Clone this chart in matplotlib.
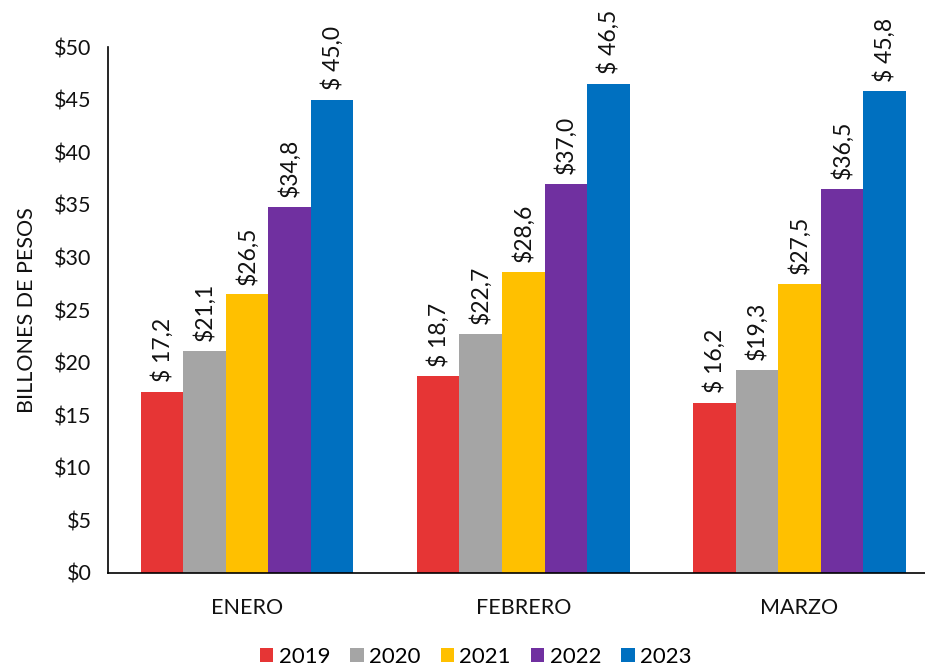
import numpy as np
import matplotlib.pyplot as plt

plt.rcParams['font.family'] = ['Lato', 'DejaVu Sans']

meses = ["ENERO", "FEBRERO", "MARZO"]
anios = ["2019", "2020", "2021", "2022", "2023"]
valores = {
    "2019": [17.2, 18.7, 16.2],
    "2020": [21.1, 22.7, 19.3],
    "2021": [26.5, 28.6, 27.5],
    "2022": [34.8, 37.0, 36.5],
    "2023": [45.0, 46.5, 45.8],
}
etiquetas = {
    "2019": ["$ 17,2", "$ 18,7", "$ 16,2"],
    "2020": ["$21,1", "$22,7", "$19,3"],
    "2021": ["$26,5", "$28,6", "$27,5"],
    "2022": ["$34,8", "$37,0", "$36,5"],
    "2023": ["$ 45,0", "$ 46,5", "$ 45,8"],
}
colores = ["#E63535", "#A5A5A5", "#FFC000", "#7030A0", "#0070C0"]

fig = plt.figure(figsize=(9.25, 6.66), dpi=100)
ax = fig.add_axes([0.117, 0.14, 0.883, 0.789])

x = np.arange(len(meses))
w = 0.154
for i, anio in enumerate(anios):
    pos = x + (i - 2) * w
    bars = ax.bar(pos, valores[anio], width=w, color=colores[i], label=anio)
    for b, txt in zip(bars, etiquetas[anio]):
        ax.annotate(txt, (b.get_x() + b.get_width() / 2, b.get_height()),
                    xytext=(0, 7), textcoords="offset points",
                    rotation=90, ha="center", va="bottom", fontsize=16.5,
                    color="#111111")

ax.set_xlim(-0.503, 2.455)
ax.set_ylim(0, 50)
ax.set_yticks(range(0, 51, 5))
ax.set_yticklabels([f"${v}" for v in range(0, 51, 5)])
ax.set_xticks(x)
ax.set_xticklabels(meses)
ax.tick_params(length=0, labelsize=15.5, labelcolor="#111111")
ax.tick_params(axis="y", pad=12)
ax.tick_params(axis="x", pad=18)
for s in ["top", "right"]:
    ax.spines[s].set_visible(False)
ax.spines["left"].set_linewidth(1.2)
ax.spines["bottom"].set_linewidth(1.2)
ax.set_ylabel("BILLONES DE PESOS", fontsize=15.5, labelpad=12, color="#111111")

ax.legend(loc="lower center", bbox_to_anchor=(0.45, -0.205), ncol=5, frameon=False,
          fontsize=16, handlelength=0.6, handleheight=0.6, handletextpad=0.25,
          columnspacing=0.9, borderpad=0.1)

fig.savefig("out.png", dpi=100)
